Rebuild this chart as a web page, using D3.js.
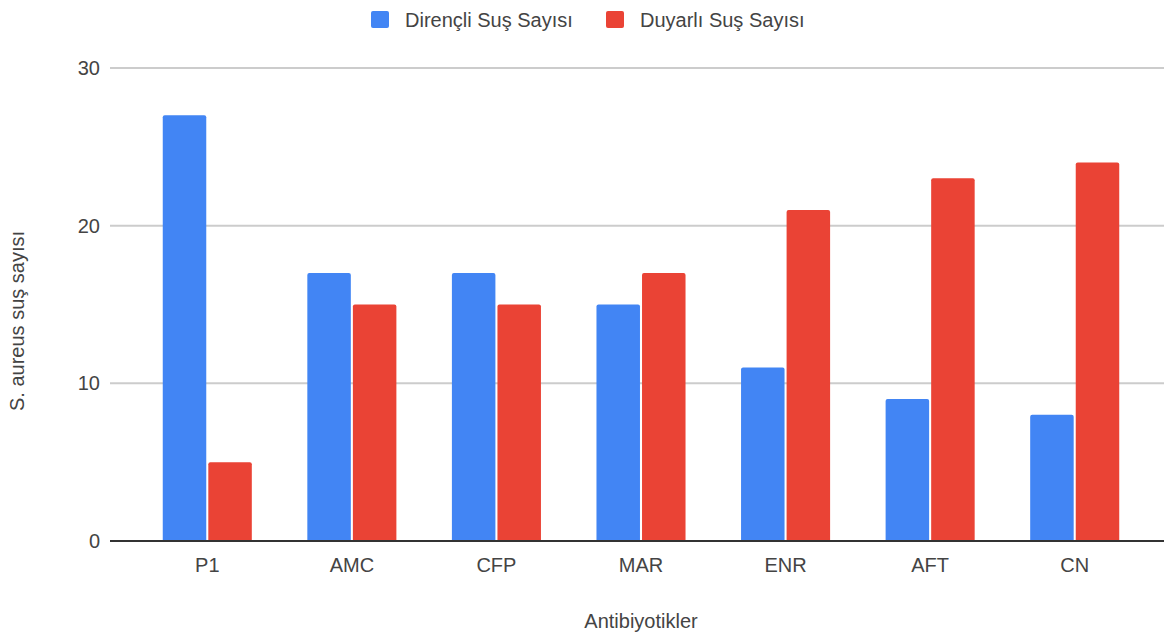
<!DOCTYPE html>
<html>
<head>
<meta charset="utf-8">
<script src="https://cdn.jsdelivr.net/npm/d3@7"></script>
<style>
  body { margin: 0; background: #fff; }
  text { font-family: "Liberation Sans", Arial, sans-serif; fill: #444; }
</style>
</head>
<body>
<div id="chart"></div>
<script>
    // veriler
    const categories = ['P1', 'AMC', 'CFP', 'MAR', 'ENR', 'AFT', 'CN'];
    const seriesNames = ['Dirençli Suş Sayısı', 'Duyarlı Suş Sayısı'];
    const direncli = [27, 17, 17, 15, 11, 9, 8];
    const duyarli = [5, 15, 15, 17, 21, 23, 24];
    const yTicks = [0, 10, 20, 30];
    const colors = ['#4285f4', '#ea4335'];

    const width = 1164;
    const height = 635;
    const fontSize = '20px';

    const rows = categories.map((c, i) => ({ cat: c, values: [direncli[i], duyarli[i]] }));

    const svg = d3.select('#chart').append('svg')
        .attr('width', width)
        .attr('height', height);

    let x0 = d3.scaleBand()
        .domain(categories)
        .range([135, 1147])
        .paddingInner(0.384)
        .paddingOuter(0.192);

    let x1 = d3.scaleBand()
        .domain([0, 1])
        .range([0, x0.bandwidth()])
        .paddingInner(0.045);

    let y = d3.scaleLinear()
        .domain([0, 30])
        .range([541, 68]);

    // grid
    svg.append('g')
        .selectAll('line')
        .data(yTicks.filter(d => d > 0))
        .enter().append('line')
        .attr('x1', 110)
        .attr('x2', width)
        .attr('y1', d => y(d))
        .attr('y2', d => y(d))
        .attr('stroke', '#cccccc')
        .attr('stroke-width', 2);

    // y tick labels
    svg.append('g')
        .selectAll('text')
        .data(yTicks)
        .enter().append('text')
        .attr('x', 100)
        .attr('y', d => y(d))
        .attr('dy', '0.35em')
        .attr('text-anchor', 'end')
        .style('font-size', fontSize)
        .text(d => d);

    // bars
    svg.append('g')
        .selectAll('g')
        .data(rows)
        .enter().append('g')
        .attr('transform', d => 'translate(' + x0(d.cat) + ',0)')
        .selectAll('path')
        .data(d => d.values.map((v, i) => ({ v: v, i: i })))
        .enter().append('path')
        .attr('fill', d => colors[d.i])
        .attr('d', d => {
            const bx = x1(d.i), bw = x1.bandwidth(), top = y(d.v), bottom = y(0), r = 2;
            return `M${bx},${bottom}V${top + r}Q${bx},${top} ${bx + r},${top}H${bx + bw - r}Q${bx + bw},${top} ${bx + bw},${top + r}V${bottom}Z`;
        });

    // baseline
    svg.append('line')
        .attr('x1', 110)
        .attr('x2', width)
        .attr('y1', y(0))
        .attr('y2', y(0))
        .attr('stroke', '#333333')
        .attr('stroke-width', 2);

    // x labels
    svg.append('g')
        .selectAll('text')
        .data(categories)
        .enter().append('text')
        .attr('x', d => x0(d) + x0.bandwidth() / 2)
        .attr('y', 565)
        .attr('dy', '0.35em')
        .attr('text-anchor', 'middle')
        .style('font-size', fontSize)
        .text(d => d);

    // axis titles
    svg.append('text')
        .attr('x', 641)
        .attr('y', 621)
        .attr('dy', '0.35em')
        .attr('text-anchor', 'middle')
        .style('font-size', fontSize)
        .text('Antibiyotikler');

    svg.append('text')
        .attr('transform', 'translate(17,321) rotate(-90)')
        .attr('dy', '0.35em')
        .attr('text-anchor', 'middle')
        .style('font-size', fontSize)
        .text('S. aureus suş sayısı');

    // legend
    const legendX = [371, 606];
    const legend = svg.append('g')
        .selectAll('g')
        .data(seriesNames)
        .enter().append('g')
        .attr('transform', (d, i) => 'translate(' + legendX[i] + ',11)');

    legend.append('rect')
        .attr('width', 18)
        .attr('height', 17)
        .attr('rx', 2)
        .attr('fill', (d, i) => colors[i]);

    legend.append('text')
        .attr('x', 34)
        .attr('y', 9)
        .attr('dy', '0.35em')
        .style('font-size', fontSize)
        .text(d => d);
</script>
</body>
</html>
